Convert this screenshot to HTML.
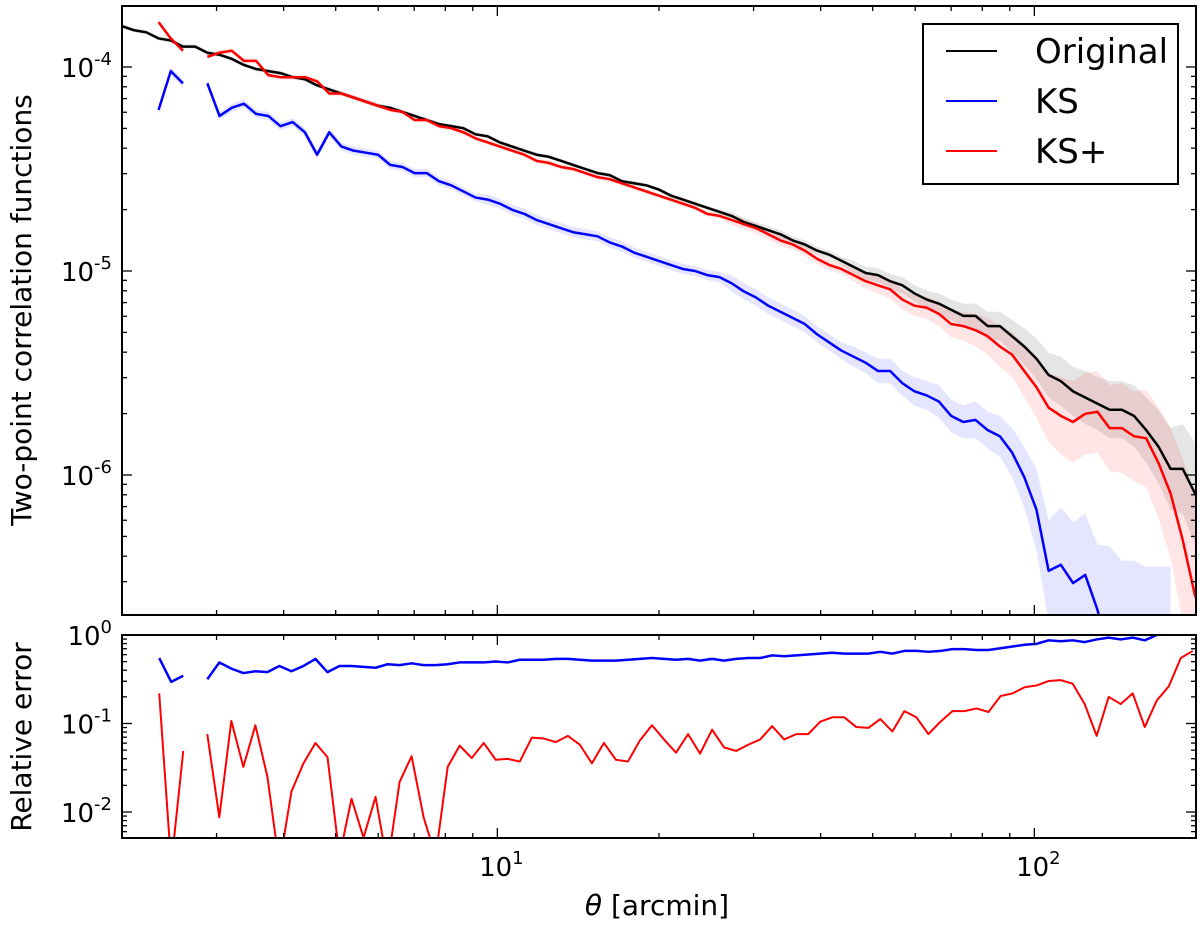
<!DOCTYPE html>
<html><head><meta charset="utf-8"><style>
html,body{margin:0;padding:0;background:#fff;}
svg{display:block;font-family:"DejaVu Sans","Liberation Sans",sans-serif;}
</style></head><body>
<svg id="chart" width="1200" height="930" viewBox="0 0 1200 930" xmlns="http://www.w3.org/2000/svg">
<defs>
<clipPath id="clipTop"><rect x="122" y="6" width="1074" height="609"/></clipPath>
<clipPath id="clipBot"><rect x="122" y="635" width="1074" height="203"/></clipPath>
</defs>
<rect width="1200" height="930" fill="#fff"/>
<g id="topBands" clip-path="url(#clipTop)"></g>
<g id="topLines" clip-path="url(#clipTop)"></g>
<g id="botLines" clip-path="url(#clipBot)"></g>
<g id="ticks"></g>
<rect x="122" y="6" width="1074" height="609" fill="none" stroke="#000" stroke-width="2"/>
<rect x="122" y="635" width="1074" height="203" fill="none" stroke="#000" stroke-width="2"/>
<g id="labels"></g>
<text x="31" y="310" transform="rotate(-90 31 310)" text-anchor="middle" font-size="28">Two-point correlation functions</text>
<text x="31" y="737" transform="rotate(-90 31 737)" text-anchor="middle" font-size="28">Relative error</text>
<text x="657" y="915" text-anchor="middle" font-size="28"><tspan font-style="italic">θ</tspan> [arcmin]</text>
<g>
<rect x="923" y="24" width="255" height="160" fill="#fff" stroke="#000" stroke-width="2"/>
<line x1="946" y1="51" x2="997" y2="51" stroke="#000" stroke-width="2"/>
<text x="1035" y="63" font-size="34">Original</text>
<line x1="946" y1="101" x2="997" y2="101" stroke="#00f" stroke-width="2"/>
<text x="1035" y="113" font-size="34">KS</text>
<line x1="946" y1="151" x2="997" y2="151" stroke="#f00" stroke-width="2"/>
<text x="1035" y="163" font-size="34">KS+</text>
</g>
</svg>
<script>
// theta grids (arcmin): log-spaced bins
const thetaMinTop = 2.0;
const thetaMaxTop = 209.8;
const thetaMinBot = 2.01;
const thetaMaxBot = 197.3;
const nBins = 90;
// log10 of two-point correlation functions
const originalLog10 = [-3.80,-3.82,-3.83,-3.86,-3.87,-3.90,-3.90,-3.93,-3.94,-3.96,
-3.99,-4.01,-4.02,-4.03,-4.05,-4.06,-4.09,-4.11,-4.13,-4.15,
-4.17,-4.19,-4.20,-4.22,-4.24,-4.26,-4.28,-4.29,-4.30,-4.33,
-4.34,-4.37,-4.39,-4.41,-4.43,-4.44,-4.46,-4.48,-4.50,-4.52,
-4.53,-4.56,-4.57,-4.58,-4.60,-4.63,-4.65,-4.67,-4.69,-4.71,
-4.73,-4.76,-4.78,-4.80,-4.82,-4.85,-4.87,-4.90,-4.92,-4.95,
-4.98,-5.01,-5.02,-5.05,-5.07,-5.11,-5.14,-5.16,-5.19,-5.22,
-5.22,-5.27,-5.27,-5.32,-5.37,-5.43,-5.51,-5.54,-5.59,-5.62,
-5.65,-5.68,-5.68,-5.71,-5.78,-5.86,-5.97,-5.97,-6.09,-6.12];
const ksLog10 = [null,null,null,-4.21,-4.02,-4.08,null,-4.08,-4.24,-4.20,
-4.18,-4.23,-4.24,-4.29,-4.27,-4.32,-4.43,-4.32,-4.39,-4.41,
-4.42,-4.43,-4.48,-4.49,-4.52,-4.52,-4.56,-4.58,-4.61,-4.64,
-4.65,-4.67,-4.70,-4.72,-4.75,-4.77,-4.79,-4.81,-4.82,-4.83,
-4.86,-4.88,-4.91,-4.93,-4.95,-4.97,-4.99,-5.00,-5.02,-5.03,
-5.06,-5.10,-5.13,-5.17,-5.20,-5.23,-5.26,-5.31,-5.35,-5.39,
-5.42,-5.45,-5.49,-5.49,-5.55,-5.59,-5.61,-5.64,-5.71,-5.74,
-5.73,-5.78,-5.81,-5.89,-6.01,-6.17,-6.47,-6.44,-6.53,-6.49,
-6.66,-6.90,-7.2,-7.2,-7.2,-7.2,-7.2,null,null,null];
const ksPlusLog10 = [null,null,null,-3.78,-3.86,-3.92,null,-3.95,-3.93,-3.92,
-3.97,-3.97,-4.04,-4.05,-4.05,-4.05,-4.07,-4.13,-4.13,-4.15,
-4.17,-4.19,-4.21,-4.22,-4.26,-4.26,-4.29,-4.30,-4.32,-4.35,
-4.37,-4.39,-4.41,-4.43,-4.46,-4.47,-4.49,-4.50,-4.52,-4.54,
-4.55,-4.57,-4.59,-4.61,-4.63,-4.65,-4.67,-4.69,-4.72,-4.73,
-4.75,-4.77,-4.79,-4.82,-4.85,-4.87,-4.90,-4.94,-4.97,-4.99,
-5.02,-5.05,-5.07,-5.09,-5.14,-5.17,-5.18,-5.21,-5.26,-5.27,
-5.29,-5.32,-5.37,-5.41,-5.49,-5.57,-5.67,-5.71,-5.74,-5.70,
-5.69,-5.77,-5.77,-5.81,-5.82,-5.94,-6.09,-6.32,-6.59,-6.75];
// 1-sigma spread (dex)
const originalSigma = [0.01,0.01,0.01,0.01,0.01,0.01,0.01,0.01,0.01,0.01,
0.01,0.01,0.01,0.01,0.01,0.01,0.01,0.01,0.01,0.01,
0.01,0.01,0.01,0.01,0.01,0.01,0.01,0.01,0.01,0.01,
0.01,0.01,0.01,0.01,0.01,0.01,0.01,0.01,0.01,0.01,
0.01,0.01,0.01,0.01,0.01,0.01,0.01,0.01,0.01,0.01,
0.02,0.02,0.02,0.02,0.02,0.02,0.02,0.02,0.02,0.02,
0.03,0.03,0.035,0.035,0.04,0.04,0.045,0.05,0.05,0.06,
0.06,0.07,0.07,0.08,0.09,0.10,0.11,0.12,0.12,0.13,
0.13,0.14,0.14,0.15,0.16,0.18,0.20,0.22,0.25,0.28];
const ksSigma = [0.02,0.02,0.02,0.02,0.02,0.02,0.02,0.02,0.02,0.02,
0.02,0.02,0.02,0.02,0.02,0.02,0.02,0.02,0.02,0.02,
0.02,0.02,0.02,0.02,0.02,0.02,0.02,0.02,0.02,0.02,
0.025,0.025,0.025,0.025,0.025,0.025,0.025,0.025,0.025,0.025,
0.025,0.025,0.025,0.025,0.025,0.025,0.025,0.025,0.025,0.025,
0.04,0.04,0.04,0.04,0.04,0.04,0.04,0.04,0.04,0.04,
0.05,0.05,0.06,0.06,0.06,0.07,0.07,0.08,0.08,0.08,
0.09,0.09,0.10,0.12,0.15,0.20,0.25,0.28,0.30,0.30,
0.32,0.55,0.78,0.78,0.75,0.75,0.75,0,0,0];
const ksPlusSigma = [0.012,0.012,0.012,0.012,0.012,0.012,0.012,0.012,0.012,0.012,
0.012,0.012,0.012,0.012,0.012,0.012,0.012,0.012,0.012,0.012,
0.012,0.012,0.012,0.012,0.012,0.012,0.012,0.012,0.012,0.012,
0.012,0.012,0.012,0.012,0.012,0.012,0.012,0.012,0.012,0.012,
0.012,0.012,0.012,0.012,0.012,0.012,0.012,0.012,0.012,0.012,
0.025,0.025,0.025,0.025,0.025,0.025,0.025,0.025,0.025,0.025,
0.03,0.035,0.04,0.045,0.05,0.05,0.055,0.06,0.065,0.07,
0.08,0.09,0.10,0.11,0.13,0.15,0.17,0.19,0.20,0.20,
0.20,0.21,0.22,0.22,0.24,0.27,0.32,0.40,0.50,0.60];
// log10 relative error
const relErrKSLog10 = [null,null,null,-0.26,-0.53,-0.46,null,-0.50,-0.31,-0.38,
-0.43,-0.41,-0.42,-0.35,-0.41,-0.35,-0.27,-0.42,-0.35,-0.35,
-0.36,-0.37,-0.33,-0.34,-0.32,-0.34,-0.34,-0.33,-0.31,-0.31,
-0.31,-0.30,-0.31,-0.28,-0.28,-0.28,-0.27,-0.27,-0.28,-0.29,
-0.29,-0.29,-0.28,-0.27,-0.26,-0.27,-0.28,-0.27,-0.29,-0.27,
-0.29,-0.27,-0.26,-0.26,-0.23,-0.24,-0.23,-0.22,-0.21,-0.20,
-0.21,-0.21,-0.21,-0.19,-0.21,-0.18,-0.18,-0.19,-0.18,-0.16,
-0.16,-0.17,-0.17,-0.15,-0.13,-0.11,-0.10,-0.06,-0.07,-0.06,
-0.08,-0.05,-0.03,-0.05,-0.03,-0.06,0.0,0.05,0.05,0.05];
const relErrKSPlusLog10 = [null,null,null,-0.66,-2.6,-1.31,null,-1.12,-2.06,-0.97,
-1.49,-1.02,-1.60,-2.6,-1.77,-1.45,-1.22,-1.38,-2.5,-1.85,
-2.29,-1.83,-2.6,-1.66,-1.37,-2.06,-2.5,-1.49,-1.25,-1.39,
-1.22,-1.41,-1.40,-1.43,-1.16,-1.17,-1.21,-1.14,-1.24,-1.45,
-1.22,-1.41,-1.43,-1.19,-1.02,-1.18,-1.33,-1.12,-1.34,-1.07,
-1.27,-1.31,-1.24,-1.18,-1.03,-1.18,-1.12,-1.12,-0.98,-0.93,
-0.93,-1.04,-1.05,-0.95,-1.09,-0.86,-0.93,-1.12,-0.98,-0.86,
-0.86,-0.83,-0.87,-0.69,-0.66,-0.59,-0.57,-0.52,-0.51,-0.55,
-0.78,-1.14,-0.70,-0.78,-0.66,-1.04,-0.74,-0.58,-0.26,-0.18];
const xTickLabels = ["1","2"];
const topTickExps = ["-4","-5","-6"];
const botTickExps = ["0","-1","-2"];

const NS = "http://www.w3.org/2000/svg";
function grid(a, b) { const t = []; for (let i = 0; i < nBins; i++) t.push(a * Math.pow(b / a, i / (nBins - 1))); return t; }
const thetaTop = grid(thetaMinTop, thetaMaxTop);
const thetaBot = grid(thetaMinBot, thetaMaxBot);
const xS = v => 122 + (Math.log10(v) - Math.log10(2)) * 537;
const yT = L => 67 - (L + 4) * 204;
const yB = L => 635 - L * 88.5;

function mk(tag, attrs, parent) {
  const e = document.createElementNS(NS, tag);
  for (const k in attrs) e.setAttribute(k, attrs[k]);
  parent.appendChild(e);
  return e;
}
function segments(vals) {
  const segs = []; let cur = [];
  vals.forEach((v, i) => { if (v === null) { if (cur.length) segs.push(cur); cur = []; } else cur.push(i); });
  if (cur.length) segs.push(cur);
  return segs;
}
function drawBand(vals, sig, fill, name) {
  const g = document.getElementById('topBands');
  segments(vals).forEach(seg => {
    const up = seg.map(i => xS(thetaTop[i]) + ',' + yT(vals[i] + sig[i]));
    const lo = seg.slice().reverse().map(i => xS(thetaTop[i]) + ',' + yT(vals[i] - sig[i]));
    const p = mk('polygon', {points: up.concat(lo).join(' '), fill: fill, stroke: 'none'}, g);
    
    
  });
}
function drawLine(vals, th, ys, gid, color, w, name) {
  const g = document.getElementById(gid);
  segments(vals).forEach(seg => {
    const pts = seg.map(i => xS(th[i]) + ',' + ys(vals[i])).join(' ');
    const p = mk('polyline', {points: pts, fill: 'none', stroke: color, 'stroke-width': w, 'stroke-linejoin': 'round'}, g);
    
    
  });
}
drawBand(originalLog10, originalSigma, 'rgba(0,0,0,0.1)', 'original-band');
drawBand(ksLog10, ksSigma, 'rgba(0,0,255,0.1)', 'ks-band');
drawBand(ksPlusLog10, ksPlusSigma, 'rgba(255,0,0,0.1)', 'ksplus-band');
drawLine(originalLog10, thetaTop, yT, 'topLines', '#000', 2.5, 'original-line');
drawLine(ksLog10, thetaTop, yT, 'topLines', '#00f', 2.5, 'ks-line');
drawLine(ksPlusLog10, thetaTop, yT, 'topLines', '#f00', 2.5, 'ksplus-line');
drawLine(relErrKSLog10, thetaBot, yB, 'botLines', '#00f', 2.5, 'ks-relative-error-line');
drawLine(relErrKSPlusLog10, thetaBot, yB, 'botLines', '#f00', 2, 'ksplus-relative-error-line');

// ticks
const tg = document.getElementById('ticks');
function tk(x1, y1, x2, y2) { mk('line', {x1: x1, y1: y1, x2: x2, y2: y2, stroke: '#000', 'stroke-width': 1.3}, tg); }
for (let d = 0; d <= 2; d++) for (let m = 1; m <= 9; m++) {
  const v = m * Math.pow(10, d);
  if (v < 2 || v > 200) continue;
  const x = xS(v), len = m === 1 ? 10 : 5;
  tk(x, 6, x, 6 + len); tk(x, 615, x, 615 - len);
  tk(x, 635, x, 635 + len); tk(x, 838, x, 838 - len);
}
for (let d = -7; d <= -4; d++) for (let m = 1; m <= 9; m++) {
  const L = Math.log10(m) + d, y = yT(L);
  if (y < 6 || y > 615) continue;
  const len = m === 1 ? 10 : 5;
  tk(122, y, 122 + len, y); tk(1196, y, 1196 - len, y);
}
for (let d = -3; d <= 0; d++) for (let m = 1; m <= 9; m++) {
  const L = Math.log10(m) + d, y = yB(L);
  if (y < 634 || y > 838) continue;
  const len = m === 1 ? 10 : 5;
  tk(122, y, 122 + len, y); tk(1196, y, 1196 - len, y);
}
// tick labels
const lg = document.getElementById('labels');
function powLabel(x, y, exp, anchor, name) {
  const t = mk('text', {x: x, y: y, 'font-size': 26, 'text-anchor': anchor}, lg);
  
  
  t.appendChild(document.createTextNode('10'));
  const s = mk('tspan', {'font-size': 18, dy: -12}, t);
  s.textContent = exp;
}
topTickExps.forEach(e => powLabel(112, yT(parseFloat(e)) + 10, e, 'end', 'y-tick-label'));
botTickExps.forEach(e => powLabel(112, yB(parseFloat(e)) + 10, e, 'end', 'relative-error-tick-label'));
xTickLabels.forEach(e => powLabel(xS(Math.pow(10, parseFloat(e))) + 4, 876, e, 'middle', 'x-tick-label'));
</script>
</body></html>
